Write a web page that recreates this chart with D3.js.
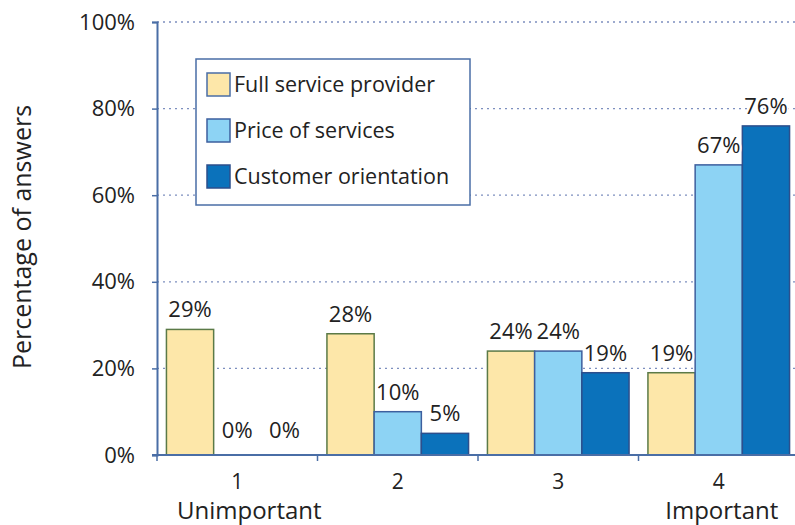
<!DOCTYPE html>
<html>
<head>
<meta charset="utf-8">
<script src="https://cdn.jsdelivr.net/npm/d3@7"></script>
<style>
  body { margin: 0; background: #fff; }
  text { font-family: "Open Sans", "Noto Sans", sans-serif; fill: #222; }
</style>
</head>
<body>
<svg id="chart" width="795" height="525"></svg>
<script>
var categories = ['1', '2', '3', '4'];
var subLabels = ['Unimportant', '', '', 'Important'];
var seriesNames = ['Full service provider', 'Price of services', 'Customer orientation'];
var fullService = [29, 28, 24, 19];
var priceOfServices = [0, 10, 24, 67];
var customerOrientation = [0, 5, 19, 76];
var yTicks = [0, 20, 40, 60, 80, 100];

var fills = ['#fde7a9', '#8dd3f4', '#0b72bb'],
    strokes = ['#5b7a47', '#3d5f9e', '#2d4f8c'],
    axisColor = '#4a6ea6';

var svg = d3.select('#chart');

var plotLeft = 157, plotRight = 799, plotTop = 22, plotBottom = 455;

var y = d3.scaleLinear().domain([0, 100]).range([plotBottom, plotTop]);
var x0 = d3.scaleBand().domain(categories).range([plotLeft, plotRight]);
var x1 = d3.scaleBand().domain(seriesNames).range([0, x0.bandwidth()]).paddingOuter(0.2);

var rows = categories.map(function(c, i) {
  return {
    cat: c,
    values: [fullService[i], priceOfServices[i], customerOrientation[i]].map(function(v, j) {
      return {name: seriesNames[j], value: v, k: j};
    })
  };
});

// gridlines
svg.append('g').selectAll('line')
    .data(yTicks.filter(function(d) { return d > 0; }))
  .enter().append('line')
    .attr('x1', plotLeft).attr('x2', 795)
    .attr('y1', function(d) { return y(d); })
    .attr('y2', function(d) { return y(d); })
    .attr('stroke', '#7d8fbf')
    .attr('stroke-width', 1.3)
    .attr('stroke-dasharray', '2,4');

// legend
var legend = svg.append('g').attr('transform', 'translate(196,59)');
legend.append('rect')
    .attr('width', 274).attr('height', 146)
    .attr('fill', '#fff')
    .attr('stroke', axisColor)
    .attr('stroke-width', 1.5);
var item = legend.selectAll('g.item')
    .data(seriesNames)
  .enter().append('g')
    .attr('class', 'item')
    .attr('transform', function(d, i) { return 'translate(11,' + (14 + i * 46) + ')'; });
item.append('rect')
    .attr('width', 23).attr('height', 23)
    .attr('fill', function(d, i) { return fills[i]; })
    .attr('stroke', function(d, i) { return i === 0 ? '#4a6ea6' : strokes[i]; })
    .attr('stroke-width', 1.5);
item.append('text')
    .attr('x', 27).attr('y', 11.5)
    .attr('dy', '0.35em')
    .style('font-size', '21.5px')
    .text(function(d) { return d; });

// bars
var group = svg.append('g').selectAll('g')
    .data(rows)
  .enter().append('g')
    .attr('transform', function(d) { return 'translate(' + x0(d.cat) + ',0)'; });

group.selectAll('rect')
    .data(function(d) { return d.values.filter(function(v) { return v.value > 0; }); })
  .enter().append('rect')
    .attr('x', function(d) { return x1(d.name); })
    .attr('width', x1.bandwidth())
    .attr('y', function(d) { return y(d.value); })
    .attr('height', function(d) { return plotBottom - y(d.value); })
    .attr('fill', function(d) { return fills[d.k]; })
    .attr('stroke', function(d) { return strokes[d.k]; })
    .attr('stroke-width', 1.5);

group.selectAll('text')
    .data(function(d) { return d.values; })
  .enter().append('text')
    .attr('x', function(d) { return x1(d.name) + x1.bandwidth() / 2; })
    .attr('y', function(d) { return y(d.value) - (d.value === 0 ? 17 : 12); })
    .attr('text-anchor', 'middle')
    .style('font-size', '22px')
    .style('paint-order', 'stroke')
    .style('stroke', '#fff')
    .style('stroke-width', 4)
    .text(function(d) { return d.value + '%'; });

// y axis
var yAxis = svg.append('g')
    .attr('transform', 'translate(' + plotLeft + ',0)')
    .call(d3.axisLeft(y).tickValues(yTicks).tickSize(5).tickPadding(17)
      .tickFormat(function(d) { return d + '%'; }));
yAxis.select('.domain').attr('stroke', axisColor).attr('stroke-width', 2);
yAxis.selectAll('.tick line').attr('stroke', axisColor).attr('stroke-width', 1.5);
yAxis.selectAll('.tick text')
    .style('font-size', '22px')
    .style('font-family', '"Open Sans", sans-serif')
    .attr('fill', '#222');

// x axis
svg.append('line')
    .attr('x1', plotLeft - 5).attr('x2', 795)
    .attr('y1', plotBottom).attr('y2', plotBottom)
    .attr('stroke', axisColor).attr('stroke-width', 2);
svg.append('g').selectAll('line')
    .data(categories)
  .enter().append('line')
    .attr('x1', function(d) { return x0(d); })
    .attr('x2', function(d) { return x0(d); })
    .attr('y1', plotBottom).attr('y2', plotBottom + 6)
    .attr('stroke', axisColor).attr('stroke-width', 1.5);

svg.append('g').selectAll('text')
    .data(categories)
  .enter().append('text')
    .attr('x', function(d) { return x0(d) + x0.bandwidth() / 2; })
    .attr('y', 489)
    .attr('text-anchor', 'middle')
    .style('font-size', '21px')
    .text(function(d) { return d; });

svg.append('g').selectAll('text')
    .data(subLabels)
  .enter().append('text')
    .attr('x', function(d, i) { return x0(categories[i]) + x0.bandwidth() / 2 + (i === 0 ? 12 : 3); })
    .attr('y', 519)
    .attr('text-anchor', 'middle')
    .style('font-size', '24px')
    .text(function(d) { return d; });

// y title
svg.append('text')
    .attr('transform', 'translate(31,237) rotate(-90)')
    .attr('text-anchor', 'middle')
    .style('font-size', '25px')
    .style('font-weight', 500)
    .text('Percentage of answers');
</script>
</body>
</html>
